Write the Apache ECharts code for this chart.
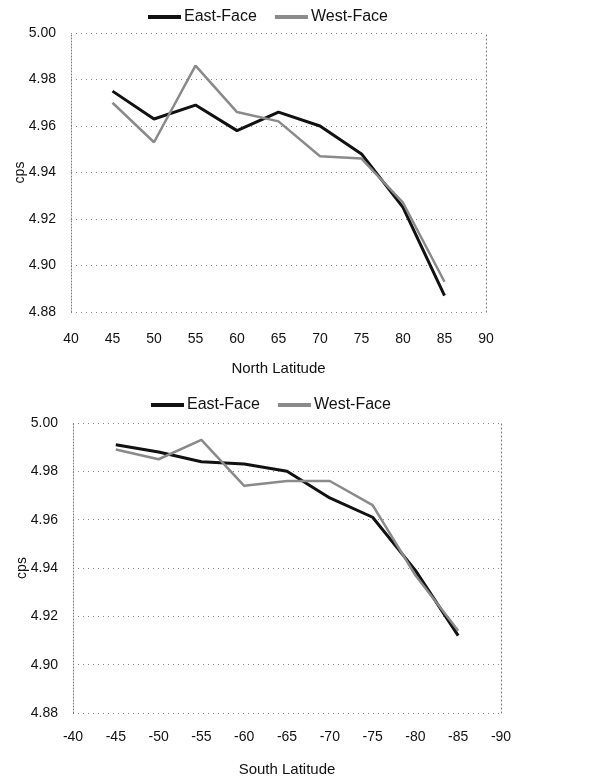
<!DOCTYPE html>
<html>
<head>
<meta charset="utf-8">
<title>cps by latitude</title>
<script src="https://cdn.jsdelivr.net/npm/echarts@6/dist/echarts.min.js"></script>
<style>
  html, body { margin: 0; padding: 0; background: #fff; }
  #main { width: 602px; height: 778px; }
</style>
</head>
<body>
<div id="main"></div>
<script>
// north panel
var northLat = [45, 50, 55, 60, 65, 70, 75, 80, 85];
var northEast = [4.975, 4.963, 4.969, 4.958, 4.966, 4.960, 4.948, 4.925, 4.887];
var northWest = [4.970, 4.953, 4.986, 4.966, 4.962, 4.947, 4.946, 4.927, 4.893];
// south panel
var southLat = [-45, -50, -55, -60, -65, -70, -75, -80, -85];
var southEast = [4.991, 4.988, 4.984, 4.983, 4.980, 4.969, 4.961, 4.939, 4.912];
var southWest = [4.989, 4.985, 4.993, 4.974, 4.976, 4.976, 4.966, 4.937, 4.914];

var font = 'Liberation Sans, Arial, sans-serif';
var dots = { color: '#888', type: [1, 4], width: 1 };

function pairs(xs, ys) {
  var out = [];
  for (var i = 0; i < xs.length; i++) out.push([xs[i], ys[i]]);
  return out;
}

function xAx(idx, min, max, name, inverse, gap, margin) {
  return {
    type: 'value', gridIndex: idx, min: min, max: max, interval: 5, inverse: inverse,
    name: name, nameLocation: 'middle', nameGap: gap,
    nameTextStyle: { fontFamily: font, fontSize: 15, color: '#111' },
    axisLine: { show: false }, axisTick: { show: false }, splitLine: { show: false },
    axisLabel: { fontFamily: font, fontSize: 14, color: '#111', margin: margin }
  };
}

function yAx(idx) {
  return {
    type: 'value', gridIndex: idx, min: 4.88, max: 5.00, interval: 0.02,
    name: 'cps', nameLocation: 'middle', nameGap: 44, nameRotate: 90,
    nameMoveOverlap: false,
    nameTextStyle: { fontFamily: font, fontSize: 14, color: '#111' },
    axisLine: { show: true, lineStyle: { color: '#777', type: [1, 2], width: 1 } },
    axisTick: { show: false },
    splitLine: { show: true, lineStyle: dots },
    axisLabel: { fontFamily: font, fontSize: 14, color: '#111', margin: 15,
      formatter: function (v) { return v.toFixed(2); } }
  };
}

function yRight(idx) {
  return {
    type: 'value', gridIndex: idx, min: 4.88, max: 5.00, position: 'right',
    axisLine: { show: true, lineStyle: { color: '#777', type: [1, 3], width: 1 } },
    axisTick: { show: false }, axisLabel: { show: false }, splitLine: { show: false }
  };
}

function line(name, xi, yi, data, color, width) {
  return {
    name: name, type: 'line', xAxisIndex: xi, yAxisIndex: yi,
    data: data, symbol: 'none', animation: false,
    lineStyle: { color: color, width: width }, itemStyle: { color: color }
  };
}

function legend(top, left) {
  return {
    top: top, left: left, padding: 0, icon: 'rect',
    itemWidth: 33, itemHeight: 4, itemGap: 18,
    data: ['East-Face', 'West-Face'],
    textStyle: { fontFamily: font, fontSize: 16, color: '#111', padding: [0, 0, 0, -2] }
  };
}

var chart = echarts.init(document.getElementById('main'));
var option = {
  backgroundColor: '#fff',
  animation: false,
  legend: [legend(9, 148), legend(397, 151)],
  grid: [
    { left: 71, right: 116, top: 33, height: 279, outerBoundsMode: 'none', containLabel: false },
    { left: 73, right: 101, top: 423, height: 290, outerBoundsMode: 'none', containLabel: false }
  ],
  xAxis: [
    xAx(0, 40, 90, 'North Latitude', false, 49, 20),
    xAx(1, -90, -40, 'South Latitude', true, 49, 17)
  ],
  yAxis: [yAx(0), yAx(1), yRight(0), yRight(1)],
  series: [
    line('East-Face', 0, 0, pairs(northLat, northEast), '#111', 3),
    line('West-Face', 0, 0, pairs(northLat, northWest), '#8a8a8a', 2.5),
    line('East-Face', 1, 1, pairs(southLat, southEast), '#111', 3),
    line('West-Face', 1, 1, pairs(southLat, southWest), '#8a8a8a', 2.5)
  ]
};
chart.setOption(option);
</script>
</body>
</html>
